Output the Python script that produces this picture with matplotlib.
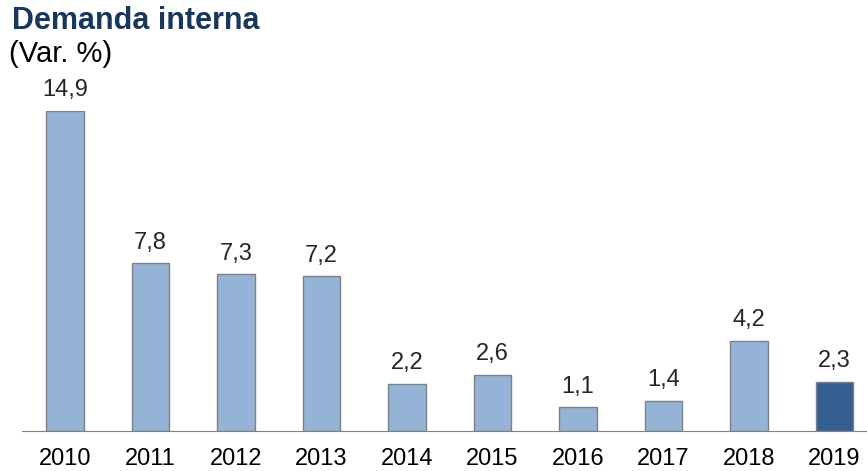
import numpy as np
import matplotlib.pyplot as plt

# Data
years = ['2010', '2011', '2012', '2013', '2014', '2015', '2016', '2017', '2018', '2019']
values = [14.9, 7.8, 7.3, 7.2, 2.2, 2.6, 1.1, 1.4, 4.2, 2.3]
labels = ['14,9', '7,8', '7,3', '7,2', '2,2', '2,6', '1,1', '1,4', '4,2', '2,3']

plt.rcParams['font.family'] = ['Liberation Sans', 'DejaVu Sans']

fig = plt.figure(figsize=(8.67, 4.71), dpi=100)
ax = fig.add_axes([22/867, 40/471, 845/867, 320/471])

x = np.arange(len(years))
colors = ['#95B3D7'] * (len(years) - 1) + ['#365F91']
ax.bar(x, values, width=0.44, color=colors, edgecolor='#808080', linewidth=1)

for xi, v, lab in zip(x, values, labels):
    ax.text(xi, v + 0.45, lab, ha='center', va='bottom', fontsize=17,
            color='#262626', clip_on=False)

ax.set_xlim(-0.503, 9.38)
ax.set_ylim(0, 14.9)
ax.set_xticks(x)
ax.set_xticklabels(years, fontsize=17)
ax.tick_params(axis='x', length=0, pad=12)
ax.set_yticks([])
for s in ['top', 'right', 'left']:
    ax.spines[s].set_visible(False)
ax.spines['bottom'].set_color('#808080')

fig.text(12/867, 1 - 6/471, 'Demanda interna', fontsize=22, fontweight='bold',
         color='#17375E', va='top', ha='left')
fig.text(9/867, 1 - 40/471, '(Var. %)', fontsize=21, color='black',
         va='top', ha='left')

plt.savefig('out.png', dpi=100)
